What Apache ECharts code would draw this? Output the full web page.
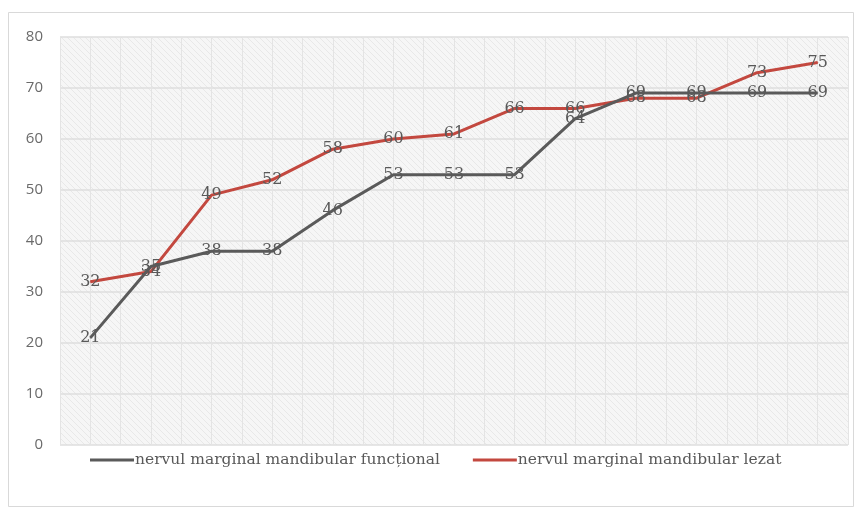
<!DOCTYPE html>
<html>
<head>
<meta charset="utf-8">
<script src="https://cdn.jsdelivr.net/npm/echarts@6/dist/echarts.min.js"></script>
<style>
  html, body { margin: 0; padding: 0; background: #ffffff; }
  #chart { width: 859px; height: 510px; }
</style>
</head>
<body>
<div id="chart"></div>
<script>
// Measurement points along the horizontal axis (unlabelled)
const categories = ['1', '2', '3', '4', '5', '6', '7', '8', '9', '10', '11', '12', '13'];
// Marginal mandibular nerve: functional vs. injured
const functionalValues = [21, 35, 38, 38, 46, 53, 53, 53, 64, 69, 69, 69, 69];
const injuredValues = [32, 34, 49, 52, 58, 60, 61, 66, 66, 68, 68, 73, 75];
const seriesNames = ['nervul marginal mandibular funcțional', 'nervul marginal mandibular lezat'];
const yTicks = { min: 0, max: 80, interval: 10 };

// Light diagonal hatch used as the plot background
function hatchPattern() {
  const c = document.createElement('canvas');
  c.width = 6; c.height = 6;
  const g = c.getContext('2d');
  g.fillStyle = '#f6f6f6';
  g.fillRect(0, 0, 6, 6);
  g.strokeStyle = '#e8e8e8';
  g.lineWidth = 1;
  g.beginPath();
  g.moveTo(0, 0); g.lineTo(6, 6);
  g.moveTo(-3, 3); g.lineTo(3, 9);
  g.moveTo(3, -3); g.lineTo(9, 3);
  g.stroke();
  return c;
}

const chart = echarts.init(document.getElementById('chart'), null, { renderer: 'canvas' });

const labelStyle = {
  show: true,
  position: 'inside',
  color: '#595959',
  fontFamily: 'DejaVu Serif',
  fontSize: 16
};

chart.setOption({
  animation: false,
  backgroundColor: '#ffffff',
  graphic: [{
    type: 'rect',
    shape: { x: 8.5, y: 12.5, width: 845, height: 494 },
    style: { fill: 'none', stroke: '#d9d9d9', lineWidth: 1 },
    silent: true,
    z: -1
  }],
  grid: {
    left: 60, right: 11, top: 37, bottom: 65,
    show: true,
    borderWidth: 0,
    backgroundColor: { image: hatchPattern(), repeat: 'repeat' }
  },
  legend: {
    bottom: 37,
    left: 85,
    itemGap: 33,
    itemWidth: 44,
    itemHeight: 3,
    icon: 'rect',
    textStyle: { color: '#595959', fontFamily: 'DejaVu Serif', fontSize: 15.5, padding: [0, 0, 0, -4] },
    data: seriesNames
  },
  xAxis: [{
    type: 'category',
    data: categories,
    boundaryGap: true,
    axisLine: { show: false },
    axisTick: { show: false },
    axisLabel: { show: false },
    splitLine: { show: false }
  }, {
    // half-step vertical guide lines
    type: 'value',
    min: 0, max: 26, interval: 1,
    position: 'bottom',
    axisLine: { show: false },
    axisTick: { show: false },
    axisLabel: { show: false },
    splitLine: { show: true, lineStyle: { color: '#e4e4e4', width: 1 } }
  }],
  yAxis: {
    type: 'value',
    min: yTicks.min, max: yTicks.max, interval: yTicks.interval,
    axisLine: { show: false },
    axisTick: { show: false },
    axisLabel: { color: '#6a6a6a', fontFamily: 'Open Sans', fontSize: 15, margin: 17 },
    splitLine: { show: true, lineStyle: { color: '#dedede', width: 1.5 } }
  },
  series: [{
    name: seriesNames[0],
    type: 'line',
    data: functionalValues,
    xAxisIndex: 0,
    symbol: 'circle',
    symbolSize: 1,
    color: '#5a5a5a',
    lineStyle: { color: '#5a5a5a', width: 3 },
    label: labelStyle,
    z: 3
  }, {
    name: seriesNames[1],
    type: 'line',
    data: injuredValues,
    xAxisIndex: 0,
    symbol: 'circle',
    symbolSize: 1,
    color: '#c3483f',
    lineStyle: { color: '#c3483f', width: 3 },
    label: labelStyle,
    z: 2
  }]
});
</script>
</body>
</html>
